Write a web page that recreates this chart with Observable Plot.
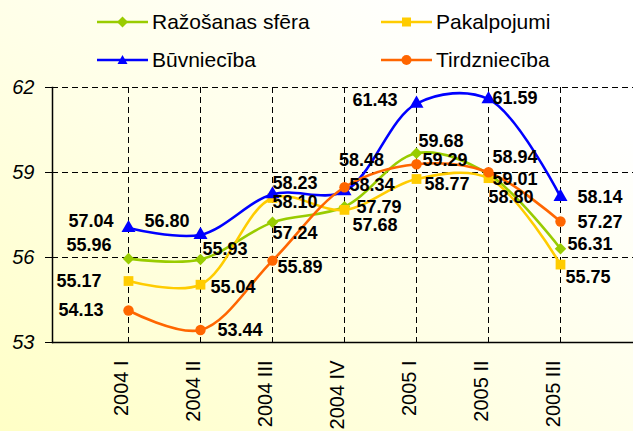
<!DOCTYPE html>
<html><head><meta charset="utf-8">
<script src="https://cdn.jsdelivr.net/npm/d3@7"></script>
<script src="https://cdn.jsdelivr.net/npm/@observablehq/plot@0.6"></script>
<style>
body{margin:0;}
#wrap{position:relative;width:633px;height:431px;background:linear-gradient(to top right,#FFFFC6 0%,#FFFFE6 45%,#FFFFFF 85%);font-family:"Liberation Sans",Arial,sans-serif;overflow:hidden}
#chart{position:absolute;left:0;top:0}
.leg{position:absolute;display:flex;align-items:center;font-size:21px;height:26px;color:#000;white-space:nowrap}
.leg svg{margin-right:4px}
</style></head><body><div id="wrap"><div id="chart"></div><div id="legend"></div></div>
<script>
const quarters = ["2004 I","2004 II","2004 III","2004 IV","2005 I","2005 II","2005 III"];
const seriesNames = ["Ražošanas sfēra","Pakalpojumi","Būvniecība","Tirdzniecība"];
const razosana = [55.96,55.93,57.24,57.79,59.68,58.94,56.31];
const pakalpojumi = [55.17,55.04,58.10,57.68,58.77,58.80,55.75];
const buvnieciba = [57.04,56.80,58.23,58.34,61.43,61.59,58.14];
const tirdznieciba = [54.13,53.44,55.89,58.48,59.29,59.01,57.27];
const yTicks = [53,56,59,62];

// styling (not data)
const colors = ["#99CC00","#FFCC00","#0000FF","#FF6600"];
const symbols = ["diamond2","square","triangle","circle"];
const labelPlacement = [
  [["end",-17,-13],["start",2,-10],["start",0,11],["start",12,0],["start",2,-12],["start",4,-17],["start",7,-4]],
  [["end",-27,0],["start",10,3],["start",0,4],["start",8,15],["start",8,5],["start",0,19],["start",5,13]],
  [["end",-15,-7],["end",-11,-14],["start",0,-11],["start",5,-6],["end",-19,-3],["start",4,-1],["start",17,0]],
  [["end",-25,0],["start",17,0],["start",5,7],["middle",17,-27],["start",6,-4],["start",4,7],["start",17,1]]
];

const allValues = [razosana, pakalpojumi, buvnieciba, tirdznieciba];
const series = seriesNames.map((name, s) => quarters.map((q, i) => ({series: name, q, v: allValues[s][i], s, i})));

const marks = [
  Plot.ruleY(yTicks.slice(1), {y: d => d, stroke: "#000", strokeWidth: 1, strokeDasharray: "6,4"}),
  Plot.ruleX(quarters, {x: d => d, stroke: "#000", strokeWidth: 1, strokeDasharray: "6,4"}),
  Plot.axisY({ticks: yTicks, tickSize: 7, tickPadding: 11, fontSize: 20, fontStyle: "italic", tickFormat: d => String(d), label: null, stroke: "#000"}),
  Plot.axisX({tickSize: 0, tickRotate: -90, tickPadding: 18, fontSize: 20, dx: -7, label: null}),
  Plot.ruleY([53], {y: d => d, stroke: "#000", strokeWidth: 1.5}),
  Plot.frame({anchor: "left", stroke: "#000", strokeWidth: 1.5})
];
series.forEach((data, s) => {
  marks.push(Plot.line(data, {x: "q", y: "v", stroke: colors[s], strokeWidth: 2.6, curve: "catmull-rom"}));
  marks.push(Plot.dot(data, {x: "q", y: "v", symbol: symbols[s], fill: colors[s], stroke: "none", r: s === 1 ? 5.5 : 5.2}));
});
series.forEach((data, s) => {
  data.forEach((d, i) => {
    const [anchor, dx, dy] = labelPlacement[s][i];
    marks.push(Plot.text([d], {x: "q", y: "v", text: e => e.v.toFixed(2), textAnchor: anchor, dx, dy, fontWeight: "bold", fontSize: 18, fill: "#000"}));
  });
});

const chart = Plot.plot({
  width: 633, height: 431,
  marginLeft: 52, marginRight: 0, marginTop: 87, marginBottom: 89,
  style: {background: "transparent", fontFamily: "'Liberation Sans', Arial, sans-serif", color: "#000", overflow: "visible"},
  x: {type: "point", domain: quarters, range: [52, 635], padding: 1, axis: null},
  y: {domain: [53, 62], axis: null},
  marks
});
document.getElementById("chart").appendChild(chart);

// legend (HTML)
const legendPos = [[97, 9], [381, 9], [97, 47], [381, 47]];
const legend = document.getElementById("legend");
const markerSvg = (s) => {
  const c = colors[s];
  let m;
  if (s === 0) m = `<polygon points="25.5,1.5 31,7 25.5,12.5 20,7" fill="${c}"/>`;
  else if (s === 1) m = `<rect x="21" y="2.5" width="9" height="9" fill="${c}"/>`;
  else if (s === 2) m = `<polygon points="25.5,2 30.5,11 20.5,11" fill="${c}"/>`;
  else m = `<circle cx="25.5" cy="7" r="5" fill="${c}"/>`;
  return `<svg width="51" height="14"><line x1="0" x2="51" y1="7" y2="7" stroke="${c}" stroke-width="2.6"/>${m}</svg>`;
};
seriesNames.forEach((name, s) => {
  const div = document.createElement("div");
  div.className = "leg";
  div.style.left = legendPos[s][0] + "px";
  div.style.top = legendPos[s][1] + "px";
  div.innerHTML = markerSvg(s) + `<span>${name}</span>`;
  legend.appendChild(div);
});
</script></body></html>
